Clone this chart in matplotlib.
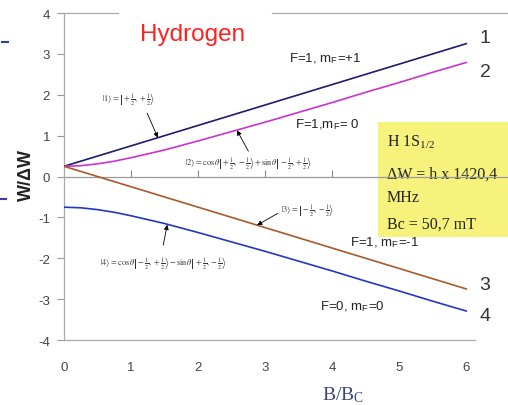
import matplotlib
matplotlib.use("Agg")
import matplotlib.pyplot as plt
from matplotlib.lines import Line2D
from matplotlib.patches import Rectangle

plt.rcParams["font.family"] = ["Liberation Sans", "DejaVu Sans"]
plt.rcParams["mathtext.fontset"] = "stix"
plt.rcParams["axes.unicode_minus"] = False

# --------------------------------------------------------------------------
# data
# --------------------------------------------------------------------------
b_ratio = [0, 0.25, 0.5, 0.75, 1.0, 1.5, 2.0, 2.5, 3.0, 3.5, 4.0, 4.5, 5.0, 5.5, 6.0]
level1 = [0.25, 0.375, 0.5, 0.625, 0.75, 1.0, 1.25, 1.5, 1.75, 2.0, 2.25, 2.5, 2.75, 3.0, 3.25]
level2 = [0.25, 0.265, 0.31, 0.375, 0.46, 0.65, 0.87, 1.10, 1.33, 1.57, 1.81, 2.06, 2.30, 2.55, 2.79]
level3 = [0.25, 0.125, 0.0, -0.125, -0.25, -0.5, -0.75, -1.0, -1.25, -1.5, -1.75, -2.0, -2.25, -2.5, -2.75]
level4 = [-0.75, -0.765, -0.81, -0.875, -0.96, -1.15, -1.37, -1.60, -1.83, -2.07, -2.31, -2.56, -2.80, -3.05, -3.29]

level_names = ["1", "2", "3", "4"]
level_colors = ["#1c1c6e", "#cc33cc", "#a85a2a", "#2436c4"]
state_labels = [r"F=1, m$_\mathregular{F}$=+1", r"F=1,m$_\mathregular{F}$= 0",
                r"F=1, m$_\mathregular{F}$=-1", r"F=0, m$_\mathregular{F}$=0"]
kets = [
    r"$|1\rangle=\left|+\frac{1}{2},+\frac{1}{2}\right\rangle$",
    r"$|2\rangle=\cos\theta\left|+\frac{1}{2},-\frac{1}{2}\right\rangle+\sin\theta\left|-\frac{1}{2},+\frac{1}{2}\right\rangle$",
    r"$|3\rangle=\left|-\frac{1}{2},-\frac{1}{2}\right\rangle$",
    r"$|4\rangle=\cos\theta\left|-\frac{1}{2},+\frac{1}{2}\right\rangle-\sin\theta\left|+\frac{1}{2},-\frac{1}{2}\right\rangle$",
]
info_lines = [r"H 1S$_\mathregular{1/2}$", "ΔW = h x 1420,4", "MHz", "Bc = 50,7 mT"]

# --------------------------------------------------------------------------
# plot
# --------------------------------------------------------------------------
fig = plt.figure(figsize=(5.08, 4.06), dpi=100)
ax = fig.add_axes([0.126, 0.160, 0.809, 0.8055])
ax.patch.set_alpha(0)

levels = [level1, level2, level3, level4]
for ys, c in zip(levels, level_colors):
    ax.plot(b_ratio, ys, color=c, lw=1.2, zorder=3)

ax.set_xlim(0, 6.13)
ax.set_ylim(-4, 4)
ax.set_xticks(range(0, 7))
ax.set_yticks(range(-4, 5))
ax.tick_params(axis="x", length=0, pad=15, labelsize=9.5, labelcolor="#444444")
ax.tick_params(axis="y", length=5, width=0.8, color="#999999", pad=5, labelsize=9.5,
               labelcolor="#444444")
for s in ["top", "right"]:
    ax.spines[s].set_visible(False)
for s in ["left", "bottom"]:
    ax.spines[s].set_color("#aaaaaa")
    ax.spines[s].set_linewidth(0.9)

# axis through zero with upward ticks, no labels
zero = ax.secondary_xaxis(0.5)
zero.set_xticks(range(1, 7))
zero.xaxis.set_ticklabels([])
zero.xaxis.set_ticks_position("bottom")
zero.tick_params(direction="in", length=5, width=0.8, color="#888888")
for s in zero.spines.values():
    s.set_color("#999999")
    s.set_linewidth(0.9)
zero.set_zorder(2)

# lines running past the plot edge, stray marks at the left edge
fig.add_artist(Line2D([0.93, 1.0], [0.5628, 0.5628], color="#999999", lw=0.9))
fig.add_artist(Line2D([64 / 508, 118 / 508], [392 / 406] * 2, color="#aaaaaa", lw=0.9))
fig.add_artist(Line2D([272 / 508, 1.0], [392 / 406] * 2, color="#aaaaaa", lw=0.9))
fig.add_artist(Line2D([2 / 508, 8 / 508], [363 / 406] * 2, color="#3040a0", lw=1.5))
fig.add_artist(Line2D([0 / 508, 6 / 508], [206 / 406] * 2, color="#3040a0", lw=1.5))

ax.set_ylabel("W/ΔW", fontsize=13, fontweight="bold", color="#222222")
ax.yaxis.set_label_coords(-0.07, 0.508)
ax.set_xlabel(r"B/B$_\mathregular{C}$", fontsize=14, color="#3a4680",
              family="Liberation Serif")
ax.xaxis.set_label_coords(0.68, -0.135)

fig.text(0.38, 0.913, "Hydrogen", color="#ff2020", fontsize=17.5, ha="center", va="center")

# level numbers at the right
number_xy = [(6.28, 3.41), (6.28, 2.58), (6.28, -2.63), (6.28, -3.41)]
for name, (x, y) in zip(level_names, number_xy):
    ax.text(x, y, name, fontsize=14, color="#333333", ha="center", va="center")

# state labels
label_xy = [(3.90, 2.91), (3.93, 1.28), (4.78, -1.60), (4.30, -3.17)]
for txt, (x, y) in zip(state_labels, label_xy):
    ax.text(x, y, txt, fontsize=9.5, color="#222222", ha="center", va="center")

# info box
ax.add_patch(Rectangle((0.764, 0.315), 0.32, 0.352, transform=ax.transAxes,
                       facecolor="#f7f27c", edgecolor="none", clip_on=False, zorder=0.5))
info_y = [0.606, 0.508, 0.437, 0.355]
for txt, y in zip(info_lines, info_y):
    ax.text(0.786, y, txt, transform=ax.transAxes, fontsize=11.5, family="Liberation Serif",
            color="#222222", ha="left", va="center", clip_on=False, zorder=1)

# ket annotations with arrows
arrow = dict(arrowstyle="-|>", lw=0.6, color="black", mutation_scale=7, shrinkA=0, shrinkB=0)
ax.text(0.96, 1.92, kets[0], fontsize=6, color="#333333", ha="center", va="center")
ax.annotate("", xy=(1.40, 0.95), xytext=(1.24, 1.55), arrowprops=arrow)
ax.text(2.75, 0.35, kets[1], fontsize=6, color="#333333", ha="center", va="center")
ax.annotate("", xy=(2.58, 1.13), xytext=(2.75, 0.62), arrowprops=arrow)
ax.text(3.63, -0.80, kets[2], fontsize=6, color="#333333", ha="center", va="center")
ax.annotate("", xy=(2.88, -1.19), xytext=(3.19, -0.90), arrowprops=arrow)
ax.text(1.48, -2.09, kets[3], fontsize=6, color="#333333", ha="center", va="center")
ax.annotate("", xy=(1.54, -1.18), xytext=(1.48, -1.68), arrowprops=arrow)

fig.savefig("out.png", dpi=100)
